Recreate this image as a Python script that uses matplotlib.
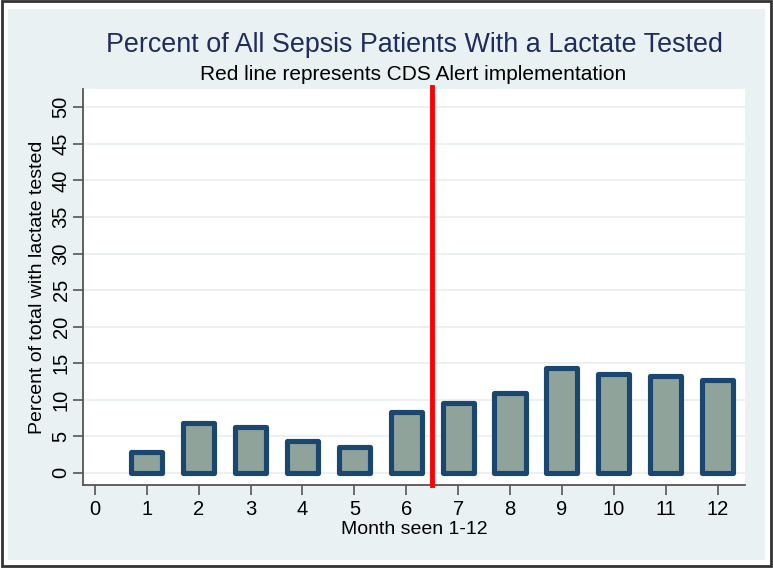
import matplotlib
matplotlib.use("Agg")
import matplotlib.pyplot as plt
from matplotlib.patches import Rectangle

months = [1, 2, 3, 4, 5, 6, 7, 8, 9, 10, 11, 12]
percent = [2.9, 6.8, 6.3, 4.4, 3.6, 8.3, 9.6, 10.9, 14.3, 13.5, 13.2, 12.7]
alert_month = 6.5
xticks = list(range(0, 13))
yticks = list(range(0, 55, 5))

plt.rcParams['font.family'] = ['Liberation Sans', 'DejaVu Sans']

W, H = 773, 570
fig = plt.figure(figsize=(W / 100, H / 100), dpi=100)
fig.patch.set_facecolor('white')

# outer frame and graph region
fig.add_artist(Rectangle((1.5 / W, 1 - 566 / H), 769.5 / W, 565 / H, transform=fig.transFigure,
                         facecolor='white', edgecolor='#333333', linewidth=2.0, zorder=-2))
fig.add_artist(Rectangle((8 / W, 1 - 560 / H), 757 / W, 551 / H, transform=fig.transFigure,
                         facecolor='#eaf1f3', edgecolor='none', zorder=-1))

left, right, top, bottom = 83, 745, 89, 485
ax = fig.add_axes([left / W, 1 - bottom / H, (right - left) / W, (bottom - top) / H])
ax.set_zorder(1)
ax.set_facecolor('white')

bars = ax.bar(months, percent, width=0.6, color='#8fa39b', edgecolor='#1a476f', linewidth=3.7, zorder=3)
for b in bars:
    b.set_joinstyle('round')
ax.axvline(alert_month, color='#ff0000', linewidth=3.5, zorder=4, ymax=1.005, clip_on=False)

ax.set_xlim(-0.23, 12.53)
ax.set_ylim(-1.65, 51.9 + 0.6)
ax.set_xticks(xticks)
ax.set_yticks(yticks)
ax.set_yticklabels([str(v) for v in yticks], rotation=90, va='center')
ax.tick_params(axis='both', colors='#555555', labelcolor='black', labelsize=14.5, length=7, width=1.2)
ax.tick_params(axis='x', pad=4)
ax.tick_params(axis='y', pad=2)

ax.grid(axis='y', color='#e8eff1', linewidth=1.2, zorder=0)
ax.set_axisbelow(True)
for s in ['top', 'right']:
    ax.spines[s].set_visible(False)
for s in ['left', 'bottom']:
    ax.spines[s].set_color('#555555')
    ax.spines[s].set_linewidth(1.3)

ax.set_xlabel('Month seen 1-12', fontsize=14, labelpad=1.5)
ax.set_ylabel('Percent of total with lactate tested', fontsize=14, labelpad=4)

fig.text(414 / W, 1 - 45 / H, 'Percent of All Sepsis Patients With a Lactate Tested',
         ha='center', va='center', fontsize=19.4, color='#1e2d5c')
fig.text(413 / W, 1 - 75 / H, 'Red line represents CDS Alert implementation',
         ha='center', va='center', fontsize=15, color='black')

fig.savefig('out.png', dpi=100, facecolor='white')
